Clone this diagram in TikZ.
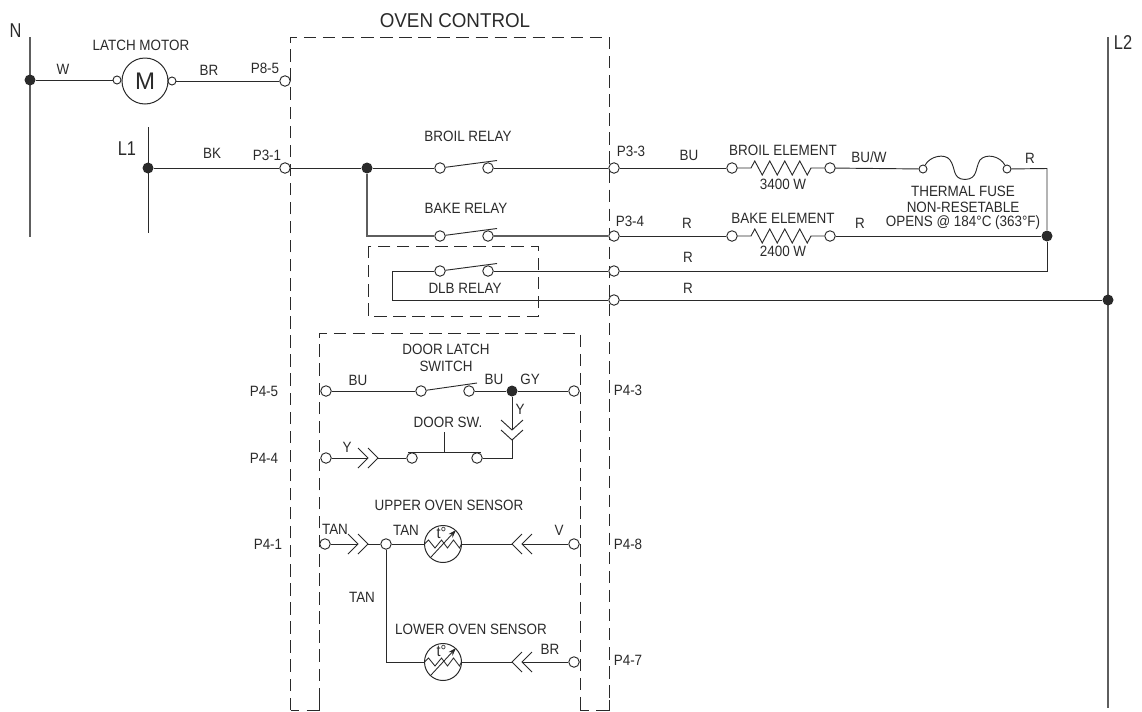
\documentclass[tikz,border=0pt]{standalone}
\usepackage{fontspec}
\setmainfont{Liberation Sans}
\usetikzlibrary{calc,arrows.meta}
\definecolor{ink}{HTML}{2A2A2A}
\definecolor{railgray}{HTML}{5E5E5E}
\tikzset{
  x=0.75pt,y=-0.75pt,
  wire/.style={draw=ink,line width=0.7pt},
  rail/.style={draw=railgray,line width=1.05pt},
  dashbox/.style={draw=ink,line width=0.65pt,dash pattern=on 9.3pt off 5pt},
  term/.style={circle,draw=ink,fill=white,line width=0.7pt,inner sep=0,minimum size=10.5pt*0.75},
  smallterm/.style={circle,draw=ink,fill=white,line width=0.7pt,inner sep=0,minimum size=8pt*0.75},
  dot/.style={circle,fill=ink,inner sep=0,minimum size=11pt*0.75},
  lab/.style={inner sep=0,text=ink,font=\fontsize{11.2pt}{12pt}\selectfont,xscale=0.9},
  biglab/.style={inner sep=0,text=ink,font=\fontsize{15pt}{15pt}\selectfont,xscale=0.94},
  rlab/.style={inner sep=0,text=ink,font=\fontsize{15pt}{15pt}\selectfont,xscale=0.82},
  multi/.style={lab,align=center,font=\fontsize{11.2pt}{12.4pt}\selectfont},
}
\newcommand{\chevR}[2]{% pointing right
  \draw[wire] (#1-10,#2-10) -- (#1,#2) -- (#1-10,#2+10);}
\newcommand{\chevL}[2]{% pointing left
  \draw[wire] (#1+10,#2-10) -- (#1,#2) -- (#1+10,#2+10);}
\newcommand{\chevD}[2]{% pointing down
  \draw[wire] (#1-11,#2-10) -- (#1,#2) -- (#1+11,#2-10);}
\begin{document}
\begin{tikzpicture}
\useasboundingbox (0,0) rectangle (1142,711);
% dashed enclosures
\draw[dashbox] (290.5,710) -- (290.5,37) -- (609,37) -- (609,710);
\draw[wire] (290.5,710) -- (299,710);
\draw[wire] (306.7,710) -- (319.5,710) -- (319.5,700);
\draw[wire] (580,700) -- (580,710) -- (589,710);
\draw[wire] (596,710) -- (609,710) -- (609,700);
\draw[dashbox] (319.5,700) -- (319.5,333) -- (580,333) -- (580,700);
\draw[dashbox] (368,246) rectangle (538,316);
% rails
\coordinate (Ntop) at (30,37); \coordinate (Nbot) at (30,237);
\coordinate (L1top) at (148,127); \coordinate (L1bot) at (148,233);
\coordinate (L2top) at (1108,37); \coordinate (L2bot) at (1108,708);
\draw[rail] (Ntop) -- (Nbot);
\draw[wire] (L1top) -- (L1bot);
\draw[rail] (L2top) -- (L2bot);
% junctions
\node[dot] (jN) at (30,80) {};
\node[dot] (jL1) at (148,168) {};
\node[dot] (j1) at (367,168) {};
\node[dot] (jR) at (1047,236) {};
\node[dot] (jL2) at (1108,300) {};
\node[dot] (jDoor) at (512,391) {};
% motor
\node[circle,draw=ink,line width=0.75pt,minimum size=46pt*0.75,inner sep=0,text=ink,font=\fontsize{18pt}{18pt}\selectfont] (motor) at (145,81) {M};
\node[smallterm] (m1) at (117,80) {};
\node[smallterm] (m2) at (172,81) {};
\node[term] (p85) at (285,81) {};
\draw[wire] (jN) -- (m1);
\draw[wire] (m2) -- (p85);
% line L1
\node[term] (p31) at (285,168) {};
\node[term] (b1) at (440,168) {};
\node[term] (b2) at (488,168) {};
\node[term] (p33) at (614,168) {};
\draw[wire] (jL1) -- (p31);
\draw[wire] (p31) -- (j1);
\draw[wire] (j1) -- (b1);
\draw[wire] (b2) -- (p33);
\coordinate (bk1) at (497,160.5);
\draw[wire] (b1) -- (bk1);
% bake
\node[term] (k1) at (440,236) {};
\node[term] (k2) at (488,236) {};
\node[term] (p34) at (614,236) {};
\draw[rail,line width=0.85pt] (j1) |- (k1);
\draw[rail,line width=0.85pt] (k2) -- (p34);
\coordinate (kk1) at (497,228.5);
\draw[wire] (k1) -- (kk1);
% DLB
\node[term] (d1) at (440,271) {};
\node[term] (d2) at (488,271) {};
\node[term] (p271) at (614,271) {};
\node[term] (p300) at (614,300) {};
\coordinate (dc1) at (392,271);
\coordinate (dc2) at (392,300);
\coordinate (dk) at (497,263.5);
\draw[wire] (d1) -- (dk);
\draw[wire] (d1) -- (dc1) -- (dc2) -- (p300);
\draw[wire] (d2) -- (p271);
\draw[wire] (p300) -- (jL2);
% broil element
\node[term] (be1) at (732,168) {};
\node[term] (be2) at (830,168) {};
\draw[wire] (p33) -- (be1);
\draw[wire] (be1) -- (751,168) -- ++(3.75,-7) -- ++(7.5,14) -- ++(7.5,-14) -- ++(7.5,14) -- ++(7.5,-14) -- ++(7.5,14) -- ++(7.5,-14) -- ++(7.5,14) -- (811,168) -- (be2);
% bake element
\node[term] (ke1) at (732,236) {};
\node[term] (ke2) at (830,236) {};
\draw[wire] (p34) -- (ke1);
\draw[wire] (ke1) -- (751,236) -- ++(3.75,-7) -- ++(7.5,14) -- ++(7.5,-14) -- ++(7.5,14) -- ++(7.5,-14) -- ++(7.5,14) -- ++(7.5,-14) -- ++(7.5,14) -- (811,236) -- (ke2);
\draw[wire] (ke2) -- (jR);
% fuse
\node[smallterm] (f1) at (923,169) {};
\node[smallterm] (f2) at (1007,169) {};
\coordinate (fc) at (1047,168.5);
\draw[wire] (be2) -- (f1);
\draw[wire] (f1) .. controls (930,156) and (945,153) .. (950,160)
  .. controls (956,168) and (952,179) .. (965,179.5)
  .. controls (978,179) and (975,168) .. (980,160)
  .. controls (986,153) and (1000,156) .. (f2);
\draw[wire] (f2) -- (fc) -- (jR);
\coordinate (rc) at (1047,271);
\draw[wire] (jR) -- (rc) -- (p271);
% door latch
\node[term] (t45) at (326,391) {};
\node[term] (l1) at (421,391) {};
\node[term] (l2) at (469,391) {};
\node[term] (t43) at (574,391) {};
\coordinate (lk) at (477,383);
\draw[wire] (t45) -- (l1);
\draw[wire] (l1) -- (lk);
\draw[wire] (l2) -- (jDoor);
\draw[wire] (jDoor) -- (t43);
\coordinate (c1) at (512,430);
\coordinate (c2) at (512,440);
\draw[wire] (jDoor) -- (c1);
\chevD{512}{430}
\chevD{512}{440}
% door sw
\node[term] (t44) at (326,458) {};
\node[term] (s1) at (412,458) {};
\node[term] (s2) at (477,458) {};
\coordinate (cc) at (512,458);
\draw[wire] (c2) -- (cc) -- (s2);
\coordinate (c3) at (378,458);
\coordinate (c4) at (368,458);
\draw[wire] (t44) -- (c4);
\chevR{368}{458}
\chevR{378}{458}
\draw[wire] (c3) -- (s1);
\coordinate (barL) at (408,452); \coordinate (barR) at (481,452);
\coordinate (barM) at (444,452); \coordinate (barT) at (444,432);
\draw[wire] (barL) -- (barR);
\draw[wire] (barM) -- (barT);
% upper sensor
\node[term] (t41) at (325,544) {};
\node[term] (u) at (386,544) {};
\node[circle,draw=ink,line width=0.75pt,minimum size=37pt*0.75,inner sep=0] (s-up) at (443,544) {};
\node[term] (t48) at (574,544) {};
\draw[wire] (t41) -- (358,544);
\chevR{358}{544}
\chevR{368}{544}
\draw[wire] (368,544) -- (u);
\draw[wire] (u) -- (s-up);
\coordinate (cu) at (512,544);
\draw[wire] (s-up) -- (cu);
\chevL{512}{544}
\chevL{522}{544}
\draw[wire] (522,544) -- (t48);
% lower sensor
\node[circle,draw=ink,line width=0.75pt,minimum size=37pt*0.75,inner sep=0] (s-lo) at (443,662) {};
\node[term] (t47) at (574,662) {};
\draw[wire] (u) |- (s-lo);
\coordinate (cl) at (512,662);
\draw[wire] (s-lo) -- (cl);
\chevL{512}{662}
\chevL{522}{662}
\draw[wire] (522,662) -- (t47);
% sensor symbols
\foreach \c in {544,662}{
  \draw[wire,line width=0.65pt] (424.5,\c) -- ++(4,-4) -- ++(6.5,8) -- ++(6.5,-8) -- ++(6,8) -- ++(6,-8) -- ++(6,8) -- (461.5,\c);
  \draw[wire,line width=0.65pt,-{Stealth[length=6pt,width=4pt]}] (431,\c+13) -- (456,\c-14);
  \node[lab,font=\fontsize{12pt}{12pt}\selectfont] at (441.5,\c-11) {t°};
}
% labels
\node[biglab] at (455,21) {OVEN CONTROL};
\node[rlab] at (15.5,31) {N};
\node[rlab] at (127,149) {L1};
\node[rlab] at (1123,43) {L2};
\node[lab] at (141,45) {LATCH MOTOR};
\node[lab] at (63,69) {W};
\node[lab] at (209,70) {BR};
\node[lab] at (265,68) {P8-5};
\node[lab] at (212,153) {BK};
\node[lab] at (267,155) {P3-1};
\node[lab] at (468,136) {BROIL RELAY};
\node[lab] at (466,208) {BAKE RELAY};
\node[lab] at (465,288) {DLB RELAY};
\node[lab] at (631,151) {P3-3};
\node[lab] at (630,221) {P3-4};
\node[lab] at (689,155) {BU};
\node[lab] at (687,223) {R};
\node[lab] at (688,257) {R};
\node[lab] at (688,288) {R};
\node[lab] at (783,150) {BROIL ELEMENT};
\node[lab] at (783,184) {3400 W};
\node[lab] at (783,218) {BAKE ELEMENT};
\node[lab] at (783,251) {2400 W};
\node[lab] at (869,157) {BU/W};
\node[lab] at (860,223) {R};
\node[lab] at (1030,158) {R};
\node[lab] at (963,191) {THERMAL FUSE};
\node[lab] at (963,207) {NON-RESETABLE};
\node[lab] at (963,223) {OPENS @ 184°C (363°F)};
\node[multi] at (446,358) {DOOR LATCH\\SWITCH};
\node[lab] at (358,380) {BU};
\node[lab] at (494,379) {BU};
\node[lab] at (530,379) {GY};
\node[lab] at (264,391) {P4-5};
\node[lab] at (628,390) {P4-3};
\node[lab] at (520,409) {Y};
\node[lab] at (448,422) {DOOR SW.};
\node[lab] at (347,447) {Y};
\node[lab] at (264,458) {P4-4};
\node[lab] at (449,505) {UPPER OVEN SENSOR};
\node[lab] at (335,529) {TAN};
\node[lab] at (406,530) {TAN};
\node[lab] at (559,530) {V};
\node[lab] at (268,544) {P4-1};
\node[lab] at (628,544) {P4-8};
\node[lab] at (362,597) {TAN};
\node[lab] at (471,629) {LOWER OVEN SENSOR};
\node[lab] at (550,649) {BR};
\node[lab] at (628,660) {P4-7};
\end{tikzpicture}
\end{document}
